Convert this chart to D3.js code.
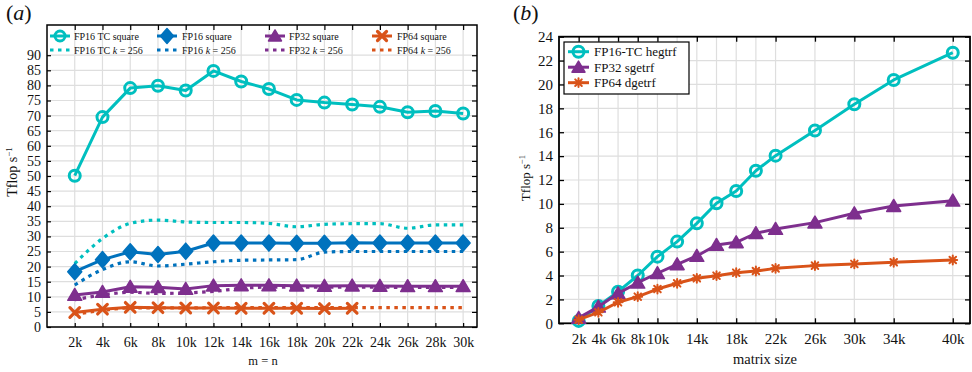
<!DOCTYPE html>
<html>
<head>
<meta charset="utf-8">
<script src="https://cdn.jsdelivr.net/npm/d3@7/dist/d3.min.js"></script>
<style>
  html, body { margin: 0; padding: 0; background: #fff; }
  svg { display: block; font-family: "Liberation Serif", "Times New Roman", serif; }
</style>
</head>
<body>
<svg id="chart" width="972" height="372"></svg>
<script>
// ---- Panel (a): GEMM throughput vs. m = n ----
const sizesA = [2, 4, 6, 8, 10, 12, 14, 16, 18, 20, 22, 24, 26, 28, 30];
const fp16tcSquare = [50.1, 69.5, 79.1, 79.9, 78.3, 84.8, 81.3, 78.8, 75.2, 74.3, 73.7, 72.9, 71.1, 71.5, 70.7];
const fp16tcK256   = [21.0, 29.3, 34.3, 35.4, 34.8, 34.6, 34.6, 34.3, 33.2, 34.0, 34.2, 34.2, 32.7, 33.8, 33.8];
const fp16Square   = [18.3, 22.3, 24.9, 24.0, 25.1, 27.8, 27.8, 27.8, 27.7, 27.7, 27.9, 27.8, 27.8, 27.8, 27.8];
const fp16K256     = [13.9, 19.0, 21.6, 20.2, 20.8, 21.6, 22.1, 22.2, 22.3, 24.8, 25.0, 25.0, 25.0, 25.0, 25.0];
const fp32Square   = [10.6, 11.6, 13.3, 13.2, 12.6, 13.7, 13.8, 13.8, 13.7, 13.6, 13.7, 13.6, 13.5, 13.5, 13.5];
const fp32K256     = [9.0, 10.6, 11.5, 11.1, 11.3, 11.8, 12.8, 13.2, 13.2, 13.2, 13.2, 13.2, 13.1, 13.1, 13.1];
const fp64Square   = [4.8, 5.9, 6.5, 6.4, 6.3, 6.3, 6.2, 6.2, 6.2, 6.1, 6.2];
const fp64K256     = [4.2, 5.5, 6.3, 6.3, 6.3, 6.4, 6.4, 6.4, 6.4, 6.4, 6.4, 6.4, 6.4, 6.4, 6.4];
const yTicksA = d3.range(0, 91, 5);

// ---- Panel (b): LU factorization throughput vs. matrix size ----
const sizesB = [2, 4, 6, 8, 10, 12, 14, 16, 18, 20, 22, 26, 30, 34, 40];
const xTickLabelsB = [2, 4, 6, 8, 10, 14, 18, 22, 26, 30, 34, 40];
const hegtrf = [0.2, 1.45, 2.65, 4.0, 5.58, 6.84, 8.37, 10.05, 11.08, 12.78, 14.04, 16.15, 18.34, 20.38, 22.66];
const sgetrf = [0.45, 1.39, 2.51, 3.4, 4.19, 4.94, 5.64, 6.56, 6.78, 7.54, 7.9, 8.43, 9.21, 9.82, 10.27];
const dgetrf = [0.3, 0.92, 1.76, 2.23, 2.87, 3.35, 3.77, 3.99, 4.24, 4.38, 4.6, 4.83, 4.97, 5.11, 5.3];
const yTicksB = d3.range(0, 25, 2);

const C = { cyan: "#00BFBF", blue: "#0072BD", purple: "#7E2F8E", orange: "#D95319" };
const GRID = "#dedede";

const svg = d3.select("#chart");

// marker drawing helpers
function drawMarker(g, kind, x, y, color, s) {
  if (kind === "circle") {
    g.append("circle").attr("cx", x).attr("cy", y).attr("r", s)
      .attr("fill", "none").attr("stroke", color).attr("stroke-width", 3);
  } else if (kind === "diamond") {
    g.append("path")
      .attr("d", `M${x},${y - s * 1.15}L${x + s},${y}L${x},${y + s * 1.15}L${x - s},${y}Z`)
      .attr("fill", color).attr("stroke", color).attr("stroke-width", 1.5).attr("stroke-linejoin", "round");
  } else if (kind === "triangle") {
    const h = s * 1.7;
    g.append("path")
      .attr("d", `M${x},${y - h * 0.55}L${x + s},${y + h * 0.45}L${x - s},${y + h * 0.45}Z`)
      .attr("fill", color).attr("stroke", color).attr("stroke-width", 1.5).attr("stroke-linejoin", "round");
  } else if (kind === "cross") {
    g.append("path")
      .attr("d", `M${x - s},${y - s}L${x + s},${y + s}M${x - s},${y + s}L${x + s},${y - s}`)
      .attr("stroke", color).attr("stroke-width", 3.2).attr("stroke-linecap", "round");
  } else if (kind === "star") {
    g.append("path")
      .attr("d", `M${x - s},${y}L${x + s},${y}M${x},${y - s}L${x},${y + s}` +
                 `M${x - s * 0.75},${y - s * 0.75}L${x + s * 0.75},${y + s * 0.75}` +
                 `M${x - s * 0.75},${y + s * 0.75}L${x + s * 0.75},${y - s * 0.75}`)
      .attr("stroke", color).attr("stroke-width", 2).attr("stroke-linecap", "round");
  }
}

// ================= Panel (a) =================
{
  const L = 47, R = 477, T = 25, B = 327;
  const x = d3.scaleLinear().domain([0, 31]).range([L, R]);
  const y = d3.scaleLinear().domain([0, 100]).range([B, T]);
  const g = svg.append("g");

  // grid
  g.append("g").selectAll("line").data(sizesA).join("line")
    .attr("x1", d => x(d)).attr("x2", d => x(d)).attr("y1", T).attr("y2", B)
    .attr("stroke", GRID).attr("stroke-width", 1.2);
  g.append("g").selectAll("line").data(yTicksA).join("line")
    .attr("x1", L).attr("x2", R).attr("y1", d => y(d)).attr("y2", d => y(d))
    .attr("stroke", GRID).attr("stroke-width", 1.2);

  // axes (ticks inward)
  const yl = g.append("g").attr("transform", `translate(${L},0)`)
    .call(d3.axisLeft(y).tickValues(yTicksA).tickSize(-4).tickPadding(6).tickFormat(d3.format("d")));
  const yr = g.append("g").attr("transform", `translate(${R},0)`)
    .call(d3.axisRight(y).tickValues(yTicksA).tickSize(-5).tickFormat(""));
  const xb = g.append("g").attr("transform", `translate(0,${B})`)
    .call(d3.axisBottom(x).tickValues(sizesA).tickSize(-4).tickPadding(10).tickFormat(d => d + "k"));
  const xt = g.append("g").attr("transform", `translate(0,${T})`)
    .call(d3.axisTop(x).tickValues(sizesA).tickSize(-5).tickFormat(""));
  [yl, yr, xb, xt].forEach(a => {
    a.select(".domain").remove();
    a.selectAll(".tick line").attr("stroke", "#000").attr("stroke-width", 1.2);
    a.selectAll("text").attr("font-family", "Liberation Serif").attr("font-size", 14).attr("fill", "#111");
  });
  g.append("rect").attr("x", L).attr("y", T).attr("width", R - L).attr("height", B - T)
    .attr("fill", "none").attr("stroke", "#000").attr("stroke-width", 1.5);

  const straight = d3.line().x(d => x(d[0])).y(d => y(d[1]));
  const smooth = d3.line().x(d => x(d[0])).y(d => y(d[1])).curve(d3.curveMonotoneX);
  const zip = (xs, ys) => ys.map((v, i) => [xs[i], v]);

  const series = [
    { sq: fp16tcSquare, k: fp16tcK256, color: C.cyan, m: "circle", s: 5.5 },
    { sq: fp16Square, k: fp16K256, color: C.blue, m: "diamond", s: 7 },
    { sq: fp32Square, k: fp32K256, color: C.purple, m: "triangle", s: 7 },
    { sq: fp64Square, k: fp64K256, color: C.orange, m: "cross", s: 4.8 }
  ];
  series.forEach(sr => {
    g.append("path").attr("d", smooth(zip(sizesA, sr.k))).attr("fill", "none")
      .attr("stroke", sr.color).attr("stroke-width", 3.2).attr("stroke-dasharray", "3.5,4.5");
  });
  series.forEach(sr => {
    const pts = zip(sizesA, sr.sq);
    g.append("path").attr("d", straight(pts)).attr("fill", "none")
      .attr("stroke", sr.color).attr("stroke-width", 3).attr("stroke-linejoin", "round");
    const mg = g.append("g");
    pts.forEach(p => drawMarker(mg, sr.m, x(p[0]), y(p[1]), sr.color, sr.s));
  });

  // legend (two rows, four columns, transparent)
  const legCols = [
    { cx: 60, tx: 74, name: "FP16 TC", color: C.cyan, m: "circle", s: 5 },
    { cx: 167, tx: 182, name: "FP16", color: C.blue, m: "diamond", s: 6.5 },
    { cx: 275, tx: 289, name: "FP32", color: C.purple, m: "triangle", s: 6.5 },
    { cx: 382, tx: 397, name: "FP64", color: C.orange, m: "cross", s: 4.5 }
  ];
  const lg = g.append("g");
  legCols.forEach(c => {
    lg.append("line").attr("x1", c.cx - 10).attr("x2", c.cx + 10).attr("y1", 36).attr("y2", 36)
      .attr("stroke", c.color).attr("stroke-width", 3);
    drawMarker(lg, c.m, c.cx, 36, c.color, c.s);
    lg.append("text").attr("x", c.tx).attr("y", 39.5).attr("font-size", 10).attr("fill", "#111")
      .text(c.name + " square");
    lg.append("line").attr("x1", c.cx - 10).attr("x2", c.cx + 11).attr("y1", 50).attr("y2", 50)
      .attr("stroke", c.color).attr("stroke-width", 3.2).attr("stroke-dasharray", "3.5,4.5");
    const t = lg.append("text").attr("x", c.tx).attr("y", 53.5).attr("font-size", 10).attr("fill", "#111");
    t.append("tspan").text(c.name + " ");
    t.append("tspan").attr("font-style", "italic").text("k");
    t.append("tspan").text(" = 256");
  });

  // labels
  const yLab = g.append("text").attr("transform", "translate(17,172) rotate(-90)")
    .attr("text-anchor", "middle").attr("font-size", 14).attr("fill", "#111");
  yLab.append("tspan").text("Tflop s");
  yLab.append("tspan").attr("dy", -5).attr("font-size", 9).text("−1");
  g.append("text").attr("x", 263).attr("y", 365).attr("text-anchor", "middle")
    .attr("font-size", 12.5).attr("fill", "#111").text("m = n");
  g.append("text").attr("x", 6).attr("y", 20).attr("font-size", 22).attr("fill", "#111")
    .html('(<tspan font-style="italic">a</tspan>)');
}

// ================= Panel (b) =================
{
  const L = 559, R = 970, T = 36.7, B = 323.3;
  const x = d3.scaleLinear().domain([0, 41.75]).range([L, R]);
  const y = d3.scaleLinear().domain([0, 24]).range([B, T]);
  const g = svg.append("g");

  g.append("g").selectAll("line").data(sizesB).join("line")
    .attr("x1", d => x(d)).attr("x2", d => x(d)).attr("y1", T).attr("y2", B)
    .attr("stroke", GRID).attr("stroke-width", 1.2);
  g.append("g").selectAll("line").data(yTicksB.slice(1, -1)).join("line")
    .attr("x1", L).attr("x2", R).attr("y1", d => y(d)).attr("y2", d => y(d))
    .attr("stroke", GRID).attr("stroke-width", 1.2);

  const yl = g.append("g").attr("transform", `translate(${L},0)`)
    .call(d3.axisLeft(y).tickValues(yTicksB).tickSize(-5).tickPadding(6).tickFormat(d3.format("d")));
  const yr = g.append("g").attr("transform", `translate(${R},0)`)
    .call(d3.axisRight(y).tickValues(yTicksB).tickSize(-5).tickFormat(""));
  const xb = g.append("g").attr("transform", `translate(0,${B})`)
    .call(d3.axisBottom(x).tickValues(xTickLabelsB).tickSize(-5).tickPadding(10).tickFormat(d => d + "k"));
  const xt = g.append("g").attr("transform", `translate(0,${T})`)
    .call(d3.axisTop(x).tickValues(xTickLabelsB).tickSize(-5).tickFormat(""));
  [yl, yr, xb, xt].forEach(a => {
    a.select(".domain").remove();
    a.selectAll(".tick line").attr("stroke", "#000").attr("stroke-width", 1.3);
    a.selectAll("text").attr("font-family", "Liberation Serif").attr("font-size", 15).attr("fill", "#111");
  });
  g.append("rect").attr("x", L).attr("y", T).attr("width", R - L).attr("height", B - T)
    .attr("fill", "none").attr("stroke", "#000").attr("stroke-width", 1.8);

  const line = d3.line().x(d => x(d[0])).y(d => y(d[1]));
  const zip = (xs, ys) => ys.map((v, i) => [xs[i], v]);
  const series = [
    { v: hegtrf, color: C.cyan, m: "circle", s: 5.5, name: "FP16-TC hegtrf" },
    { v: sgetrf, color: C.purple, m: "triangle", s: 7, name: "FP32 sgetrf" },
    { v: dgetrf, color: C.orange, m: "star", s: 4.4, name: "FP64 dgetrf" }
  ];
  series.forEach(sr => {
    const pts = zip(sizesB, sr.v);
    g.append("path").attr("d", line(pts)).attr("fill", "none")
      .attr("stroke", sr.color).attr("stroke-width", 3).attr("stroke-linejoin", "round");
    const mg = g.append("g");
    pts.forEach(p => drawMarker(mg, sr.m, x(p[0]), y(p[1]), sr.color, sr.s));
  });

  // legend box
  const lg = g.append("g");
  lg.append("rect").attr("x", 564).attr("y", 42).attr("width", 125).attr("height", 52)
    .attr("fill", "#fff").attr("stroke", "#000").attr("stroke-width", 1.2);
  series.forEach((sr, i) => {
    const ly = 51.7 + i * 15.5;
    lg.append("line").attr("x1", 568).attr("x2", 589).attr("y1", ly).attr("y2", ly)
      .attr("stroke", sr.color).attr("stroke-width", 3);
    drawMarker(lg, sr.m, 578.5, ly, sr.color, Math.min(sr.s, 6.5));
    lg.append("text").attr("x", 594).attr("y", ly + 4.5).attr("font-size", 13).attr("fill", "#111").text(sr.name);
  });

  const yLab = g.append("text").attr("transform", "translate(530,178) rotate(-90)")
    .attr("text-anchor", "middle").attr("font-size", 13).attr("fill", "#111");
  yLab.append("tspan").text("Tflop s");
  yLab.append("tspan").attr("dy", -5).attr("font-size", 8.5).text("−1");
  g.append("text").attr("x", 765).attr("y", 364).attr("text-anchor", "middle")
    .attr("font-size", 14.5).attr("fill", "#111").text("matrix size");
  g.append("text").attr("x", 513).attr("y", 20).attr("font-size", 22).attr("fill", "#111")
    .html('(<tspan font-style="italic">b</tspan>)');
}
</script>
</body>
</html>
